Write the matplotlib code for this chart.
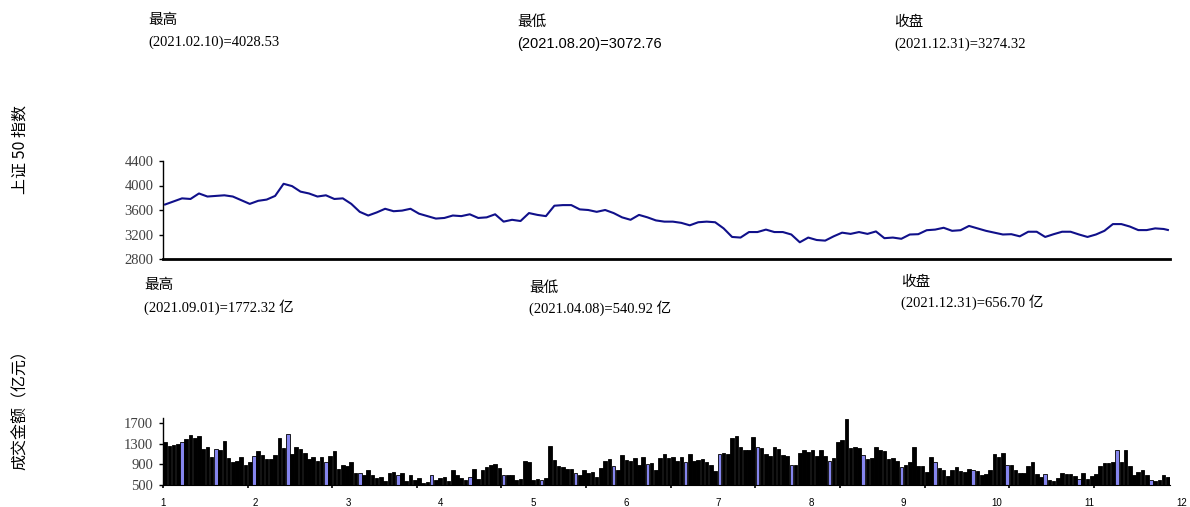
import numpy as np
import matplotlib.pyplot as plt

# 上证50 指数（每两个交易日读一次）
idx_days = list(range(0, 237, 2)) + [237]
idx_close = [3690, 3740, 3790, 3780, 3870, 3820, 3830, 3840, 3820, 3760,
             3700, 3750, 3770, 3830, 4028, 3990, 3900, 3870, 3820, 3840,
             3780, 3790, 3700, 3570, 3510, 3560, 3620, 3580, 3590, 3620,
             3540, 3500, 3460, 3470, 3510, 3500, 3530, 3470, 3480, 3530,
             3410, 3440, 3420, 3550, 3520, 3500, 3670, 3680, 3680, 3610,
             3600, 3570, 3600, 3550, 3480, 3440, 3520, 3480, 3430, 3410,
             3410, 3390, 3350, 3400, 3410, 3400, 3300, 3160, 3150, 3240,
             3240, 3280, 3240, 3240, 3200, 3073, 3150, 3110, 3100, 3170,
             3230, 3210, 3240, 3210, 3250, 3140, 3150, 3130, 3200, 3205,
             3270, 3280, 3310, 3260, 3270, 3340, 3300, 3260, 3230, 3200,
             3205, 3170, 3245, 3245, 3160, 3205, 3245, 3245, 3200, 3160,
             3200, 3260, 3370, 3370, 3330, 3272, 3272, 3300, 3290, 3274]

# 成交金额（亿元），每个交易日
amount = [1340, 1250, 1270, 1300, 1340, 1400, 1470, 1420, 1450, 1200,
          1230, 1050, 1190, 1180, 1360, 1020, 940, 960, 1050, 880,
          940, 1070, 1160, 1080, 1000, 1000, 1080, 1420, 1210, 1480,
          1100, 1240, 1190, 1130, 1010, 1040, 970, 1050, 940, 1070,
          1160, 820, 880, 860, 940, 740, 740, 700, 790, 690,
          630, 650, 570, 740, 760, 700, 730, 570, 690, 600,
          630, 541, 560, 690, 600, 630, 650, 570, 790, 690,
          630, 600, 660, 820, 620, 790, 850, 880, 900, 830,
          690, 690, 690, 590, 610, 960, 940, 590, 620, 600,
          630, 1250, 980, 860, 840, 810, 820, 740, 700, 790,
          730, 750, 660, 830, 970, 1000, 870, 800, 1090, 980,
          960, 1020, 890, 1050, 900, 920, 800, 1020, 1100, 1030,
          1040, 960, 1050, 950, 1100, 960, 980, 1010, 940, 880,
          780, 1110, 1130, 1110, 1410, 1460, 1230, 1170, 1170, 1440,
          1240, 1220, 1110, 1060, 1230, 1190, 1090, 1060, 880, 880,
          1130, 1170, 1150, 1170, 1060, 1180, 1070, 960, 1020, 1330,
          1380, 1772, 1220, 1240, 1220, 1080, 1010, 1030, 1240, 1180,
          1160, 1000, 1020, 960, 850, 880, 950, 1240, 860, 860,
          760, 1050, 950, 830, 800, 680, 800, 840, 780, 760,
          810, 800, 780, 700, 720, 800, 1100, 1040, 1130, 880,
          880, 800, 740, 740, 860, 950, 720, 650, 710, 600,
          570, 640, 740, 720, 720, 680, 610, 740, 610, 680,
          710, 860, 920, 920, 940, 1170, 940, 1170, 860, 690,
          750, 800, 700, 600, 580, 590, 690, 657]
blue_days = [4, 12, 21, 29, 38, 46, 55, 63, 72, 80, 89, 97, 106, 114,
             123, 131, 140, 148, 157, 165, 174, 182, 191, 199, 208, 216, 225, 233]
month_labels = ['1', '2', '3', '4', '5', '6', '7', '8', '9', '10', '11', '12']

n = len(amount)
W, H = 1190, 507
fig = plt.figure(figsize=(W / 100, H / 100), dpi=100)

cjk = ['Noto Sans CJK SC', 'DejaVu Sans']
serif = ['Liberation Serif', 'Noto Sans CJK SC']
sans = ['Liberation Sans', 'Noto Sans CJK SC']

def ftext(x, y, s, fam, size=10.5):
    fig.text(x / W, 1 - y / H, s, family=fam, fontsize=size, va='center', ha='left')

# 上半部分文字
ftext(148, 20, '最高', cjk, 10.5)
ftext(148, 42, '(2021.02.10)=4028.53', serif)
ftext(517, 22, '最低', cjk, 10.5)
ftext(517, 44, '(2021.08.20)=3072.76', sans)
ftext(894, 22, '收盘', cjk, 10.5)
ftext(894, 44, '(2021.12.31)=3274.32', serif)

ftext(144, 285, '最高', cjk, 10.5)
ftext(144, 307, '(2021.09.01)=1772.32 亿', serif)
ftext(529, 288, '最低', cjk, 10.5)
ftext(529, 308, '(2021.04.08)=540.92 亿', serif)
ftext(901, 282, '收盘', cjk, 10.5)
ftext(901, 302, '(2021.12.31)=656.70 亿', serif)

fig.text(20 / W, 1 - 150 / H, '上证 50 指数', family=cjk, fontsize=11.5,
         rotation=90, va='center', ha='center')
fig.text(20 / W, 1 - 406 / H, '成交金额（亿元）', family=cjk, fontsize=11.5,
         rotation=90, va='center', ha='center')

# 指数折线
ax1 = fig.add_axes([163 / W, 1 - 259 / H, 1007 / W, 98 / H])
ax1.plot(idx_days, idx_close, color='#10108a', lw=1.5)
ax1.set_xlim(-0.5, n - 0.5)
ax1.set_ylim(2800, 4400)
ax1.set_yticks([2800, 3200, 3600, 4000, 4400])
ax1.set_xticks([])
for s in ['top', 'right']:
    ax1.spines[s].set_visible(False)
ax1.spines['bottom'].set_linewidth(2)
ax1.spines['left'].set_linewidth(1)
ax1.tick_params(axis='y', length=3, width=1, pad=4, labelsize=10.5, labelcolor='#404040')
for lb in ax1.get_yticklabels():
    lb.set_family('Liberation Serif')

# 成交额柱状图
ax2 = fig.add_axes([163 / W, 1 - 485 / H, 1007 / W, 67 / H])
colors = ['#8585ee' if i in blue_days else 'black' for i in range(n)]
ax2.bar(range(n), np.array(amount) - 500, bottom=500, width=0.85,
        color=colors, edgecolor='black', linewidth=0.6)
ax2.set_xlim(-0.5, n - 0.5)
ax2.set_ylim(500, 1800)
ax2.set_yticks([500, 900, 1300, 1700])
ax2.set_xticks(np.arange(-0.5, n, 20))
ax2.set_xticklabels([])
for s in ['top', 'right']:
    ax2.spines[s].set_visible(False)
ax2.spines['left'].set_linewidth(1)
ax2.spines['bottom'].set_linewidth(0.8)
ax2.tick_params(axis='y', length=3, width=1, pad=4, labelsize=10.5, labelcolor='#404040')
ax2.tick_params(axis='x', length=2.5, width=1.2)
for lb in ax2.get_yticklabels():
    lb.set_family('Liberation Serif')

# 月份标签
lab_pos = np.linspace(-0.5, 240.2, len(month_labels))
for p, m in zip(lab_pos, month_labels):
    ax2.text(p, -0.27, m, transform=ax2.get_xaxis_transform(), ha='center', va='center',
             fontsize=7, family='Liberation Sans', clip_on=False)

fig.savefig('out.png', dpi=100)
